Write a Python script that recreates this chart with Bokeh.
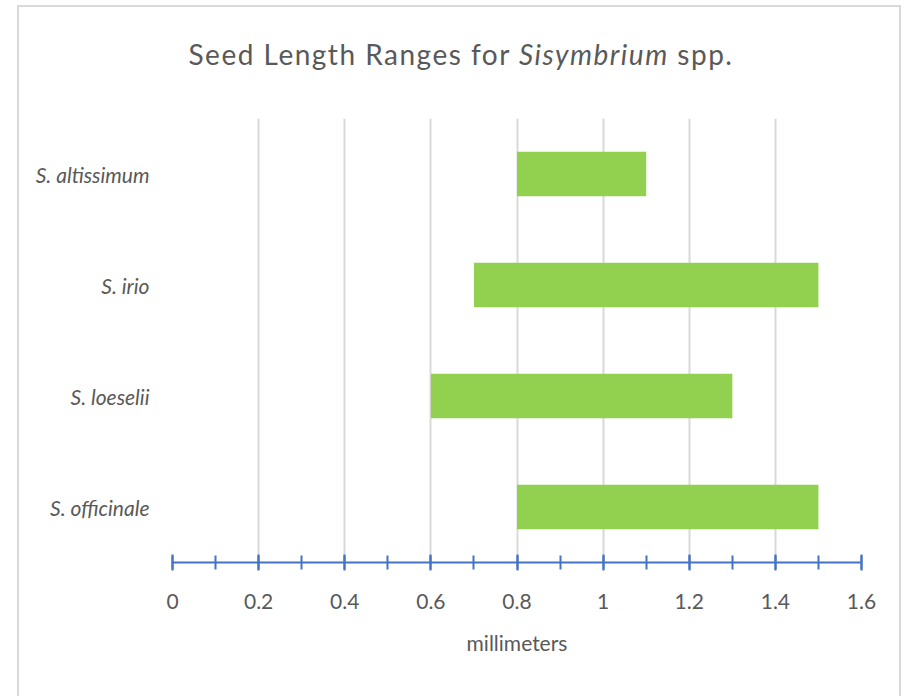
from bokeh.plotting import figure
from bokeh.models import SingleIntervalTicker, Range1d, FactorRange, ColumnDataSource, Div
from bokeh.layouts import column
from bokeh.embed import file_html
from bokeh.resources import INLINE

species = ["S. altissimum", "S. irio", "S. loeselii", "S. officinale"]
min_len = [0.8, 0.7, 0.6, 0.8]
max_len = [1.1, 1.5, 1.3, 1.5]
x_ticks = [0, 0.2, 0.4, 0.6, 0.8, 1.0, 1.2, 1.4, 1.6]
tick_labels = ["0", "0.2", "0.4", "0.6", "0.8", "1", "1.2", "1.4", "1.6"]

FONT = "Lato"
GREY = "#595959"

src = ColumnDataSource(dict(sp=species, lo=min_len, hi=max_len))

title_html = (
    '<div style="position:relative;width:888px;height:118px;">'
    '<div style="position:absolute;left:17px;top:5px;width:884px;height:700px;'
    'border:2px solid #D9D9D9;border-bottom:none;box-sizing:border-box;pointer-events:none;"></div>'
    '<div style="position:absolute;left:17px;top:34px;width:888px;text-align:center;'
    'font-family:Lato;font-size:28px;letter-spacing:1.5px;color:#595959;white-space:nowrap;">'
    'Seed Length Ranges for <i>Sisymbrium</i> spp.</div></div>'
)
title = Div(text=title_html, width=888, height=118, margin=0, styles={"overflow": "visible"})

p = figure(width=888, height=562, output_backend="svg", toolbar_location=None,
           y_range=FactorRange(factors=list(reversed(species)), range_padding=0),
           x_range=Range1d(0, 1.6),
           min_border_left=172, min_border_right=27, min_border_top=0, min_border_bottom=118)
p.border_fill_color = None

p.hbar(y="sp", left="lo", right="hi", height=0.4, source=src,
       fill_color="#92D050", line_color=None)

p.outline_line_color = None
p.ygrid.grid_line_color = None
p.xgrid.grid_line_color = "#D9D9D9"
p.xgrid.grid_line_width = 2

ticker = SingleIntervalTicker(interval=0.2, num_minor_ticks=2)
p.xaxis.ticker = ticker
p.xgrid.ticker = ticker
p.xaxis.major_label_overrides = {t: l for t, l in zip(x_ticks, tick_labels)}
p.xaxis.axis_line_color = "#4472C4"
p.xaxis.axis_line_width = 2
p.xaxis.major_tick_line_color = "#4472C4"
p.xaxis.major_tick_line_width = 2
p.xaxis.minor_tick_line_color = "#4472C4"
p.xaxis.minor_tick_line_width = 2
p.xaxis.major_tick_in = 8
p.xaxis.major_tick_out = 8
p.xaxis.minor_tick_in = 7
p.xaxis.minor_tick_out = 7
p.xaxis.major_label_text_font = FONT
p.xaxis.major_label_text_font_size = "21px"
p.xaxis.major_label_text_color = GREY
p.xaxis.major_label_standoff = 23
p.xaxis.axis_label = "millimeters"
p.xaxis.axis_label_text_font = FONT
p.xaxis.axis_label_text_font_style = "normal"
p.xaxis.axis_label_text_font_size = "21px"
p.xaxis.axis_label_text_color = GREY
p.xaxis.axis_label_standoff = 18

p.yaxis.axis_line_color = None
p.yaxis.major_tick_line_color = None
p.yaxis.minor_tick_line_color = None
p.yaxis.major_label_text_font = FONT
p.yaxis.major_label_text_font_style = "italic"
p.yaxis.major_label_text_font_size = "21px"
p.yaxis.major_label_text_color = GREY
p.yaxis.major_label_standoff = 17

layout = column(title, p, spacing=0)
open("out.html", "w").write(file_html(layout, INLINE))
